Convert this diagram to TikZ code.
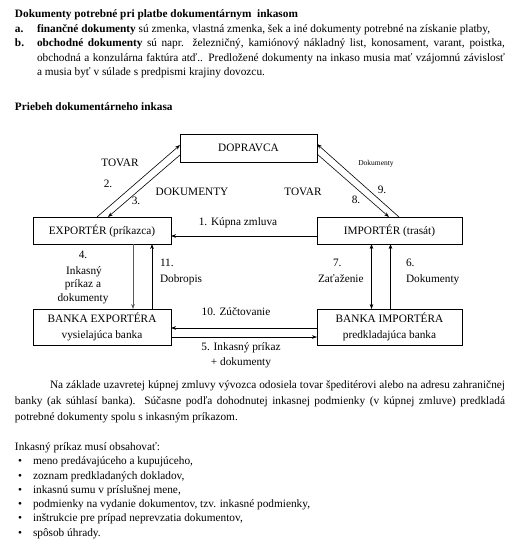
\documentclass[tikz,border=0pt]{standalone}
\usepackage{fontspec}
\setmainfont{Liberation Serif}
\usetikzlibrary{arrows.meta}
\begin{document}
\begin{tikzpicture}[x=1pt,y=-1pt,
  every node/.style={inner sep=0pt, outer sep=0pt},
  txt/.style={anchor=base west, font=\fontsize{11.3}{13}\selectfont},
  lbl/.style={anchor=base, font=\fontsize{11.3}{13}\selectfont},
  small/.style={anchor=base, font=\fontsize{7.5}{9}\selectfont},
  box/.style={draw, line width=0.6pt, align=center, font=\fontsize{11.3}{16}\selectfont},
  conn/.style={line width=0.6pt, -{Stealth[length=5pt,width=3.6pt]}},
  dconn/.style={line width=0.6pt, {Stealth[length=5pt,width=3.6pt]}-{Stealth[length=5pt,width=3.6pt]}},
]
\useasboundingbox[fill=white] (0,0) rectangle (524,560);

% --- top text ---
\node[txt] (t1) at (15,17.5) {\textbf{Dokumenty potrebné pri platbe dokumentárnym~ inkasom}};
\node[txt] (la) at (15,32.5) {\textbf{a.}};
\node[txt] (ta) at (37,32.5) {\textbf{finančné dokumenty} sú zmenka, vlastná zmenka, šek a iné dokumenty potrebné na získanie platby,};
\node[txt] (lb) at (15,46.5) {\textbf{b.}};
\node[txt] (tb1) at (37,46.5) {\makebox[468pt][s]{\textbf{obchodné dokumenty} sú napr. železničný, kamiónový nákladný list, konosament, varant, poistka,}};
\node[txt] (tb2) at (37,61) {\makebox[468pt][s]{obchodná a konzulárna faktúra atď.. Predložené dokumenty na inkaso musia mať vzájomnú závislosť}};
\node[txt] (tb3) at (37,75) {a musia byť v súlade s predpismi krajiny dovozcu.};
\node[txt] (t2) at (15,110) {\textbf{Priebeh dokumentárneho inkasa}};

% --- boxes ---
\node[box, minimum width=137pt, minimum height=28pt] (dop) at (248.5,148) {DOPRAVCA};
\node[box, minimum width=138pt, minimum height=27pt] (exp) at (102,230.5) {EXPORTÉR (príkazca)};
\node[box, minimum width=145pt, minimum height=27pt] (imp) at (389.5,230.5) {IMPORTÉR (trasát)};
\node[box, minimum width=138pt, minimum height=36pt] (bex) at (102,327) {BANKA EXPORTÉRA\\vysielajúca banka};
\node[box, minimum width=145pt, minimum height=36pt] (bim) at (389.5,327) {BANKA IMPORTÉRA\\predkladajúca banka};

% --- connectors ---
\draw[conn] ([xshift=64pt]exp.north west) -- ([yshift=3pt]dop.west);
\draw[conn] ([yshift=-7pt]dop.west) -- ([xshift=75pt]exp.north west);
\draw[conn] ([xshift=82pt]imp.north west) -- ([yshift=4pt]dop.east);
\draw[conn] ([yshift=-6pt]dop.east) -- ([xshift=72pt]imp.north west);
\draw[conn] ([yshift=-5.5pt]imp.west) -- ([yshift=-5.5pt]exp.east);
\draw[conn, draw=black!65, fill=black!65] ([xshift=100pt]exp.south west) -- ([xshift=100pt]bex.north west);
\draw[conn] ([xshift=119pt]bex.north west) -- ([xshift=119pt]exp.south west);
\draw[dconn] ([xshift=54.5pt]imp.south west) -- ([xshift=54.5pt]bim.north west);
\draw[conn] ([xshift=73.5pt]bim.north west) -- ([xshift=73.5pt]imp.south west);
\draw[conn] ([yshift=-1pt]bim.west) -- ([yshift=-1pt]bex.east);
\draw[conn] ([yshift=-10pt]bex.east) -- ([yshift=-10pt]bim.west);

% --- labels ---
\node[lbl] (l2a) at (120,166.5) {TOVAR};
\node[lbl] (l2b) at (108,187.5) {2.};
\node[lbl] (l3a) at (136,204.5) {3.};
\node[lbl] (l3b) at (192,195.5) {DOKUMENTY};
\node[lbl] (l8a) at (303,195.5) {TOVAR};
\node[small] (l9a) at (376,165.5) {Dokumenty};
\node[lbl] (l9b) at (382,193.5) {9.};
\node[lbl] (l8b) at (356,203.5) {8.};
\node[lbl] (l1) at (238,225.5) {1. Kúpna zmluva};
\node[lbl] (l4a) at (83,258.5) {4.};
\node[lbl] (l4b) at (84,274.5) {Inkasný};
\node[lbl] (l4c) at (83,287.5) {príkaz a};
\node[lbl] (l4d) at (83,301.5) {dokumenty};
\node[txt] (l11a) at (160,266.5) {11.};
\node[txt] (l11b) at (160,282.5) {Dobropis};
\node[txt] (l7a) at (333,266.5) {7.};
\node[txt] (l7b) at (318,282.5) {Zaťaženie};
\node[txt] (l6a) at (406,266.5) {6.};
\node[txt] (l6b) at (406,282.5) {Dokumenty};
\node[lbl] (l10) at (236,315.5) {10. Zúčtovanie};
\node[lbl] (l5a) at (241,350.5) {5. Inkasný príkaz};
\node[lbl] (l5b) at (241,365.5) {+ dokumenty};

% --- paragraph ---
\node[txt] (p1) at (50,388) {\makebox[455pt][s]{Na základe uzavretej kúpnej zmluvy vývozca odosiela tovar špeditérovi alebo na adresu zahraničnej}};
\node[txt] (p2) at (15,404.5) {\makebox[490pt][s]{banky (ak súhlasí banka). Súčasne podľa dohodnutej inkasnej podmienky (v kúpnej zmluve) predkladá}};
\node[txt] (p3) at (15,420) {potrebné dokumenty spolu s inkasným príkazom.};

% --- list ---
\node[txt] (i0) at (15,450) {Inkasný príkaz musí obsahovať:};
\foreach \yy/\tt [count=\k] in {
  464.5/{meno predávajúceho a kupujúceho,},
  479/{zoznam predkladaných dokladov,},
  493/{inkasnú sumu v príslušnej mene,},
  507/{podmienky na vydanie dokumentov, tzv. inkasné podmienky,},
  521/{inštrukcie pre prípad neprevzatia dokumentov,},
  536/{spôsob úhrady.}}{
  \node[txt] (b\k) at (18,\yy) {•};
  \node[txt] (i\k) at (33,\yy) {\tt};
}
\end{tikzpicture}
\end{document}
